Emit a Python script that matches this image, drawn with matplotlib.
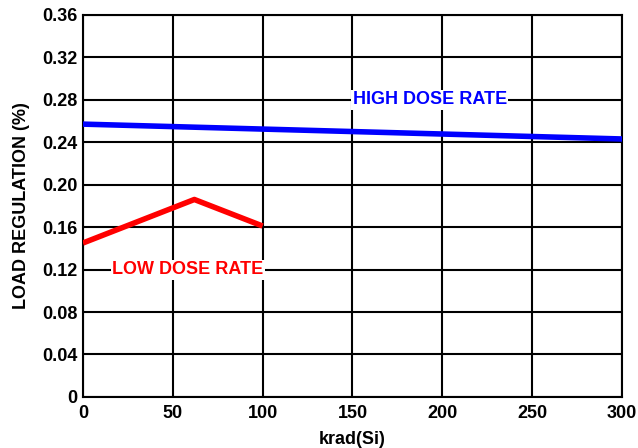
import numpy as np
import matplotlib.pyplot as plt

plt.rcParams['font.family'] = ['Liberation Sans', 'DejaVu Sans']
plt.rcParams['font.weight'] = 'bold'

# data
high_x = [0, 300]
high_y = [0.257, 0.243]

low_x = [0, 62, 100]
low_y = [0.145, 0.186, 0.161]

xticks = [0, 50, 100, 150, 200, 250, 300]
yticks = [0, 0.04, 0.08, 0.12, 0.16, 0.20, 0.24, 0.28, 0.32, 0.36]
ytick_labels = ['0', '0.04', '0.08', '0.12', '0.16', '0.20', '0.24', '0.28', '0.32', '0.36']

fig = plt.figure(figsize=(6.38, 4.48), dpi=100)
ax = fig.add_axes([0.130, 0.114, 0.845, 0.853])

ax.plot(high_x, high_y, color='#0000ff', lw=4, solid_capstyle='butt', zorder=3)
ax.plot(low_x, low_y, color='#ff0000', lw=4, solid_capstyle='butt', zorder=3)

ax.set_xlim(0, 300)
ax.set_ylim(0, 0.36)
ax.set_xticks(xticks)
ax.set_yticks(yticks)
ax.set_yticklabels(ytick_labels)
ax.grid(True, color='black', lw=1.5)
ax.set_axisbelow(True)
for sp in ax.spines.values():
    sp.set_linewidth(1.5)
ax.tick_params(axis='x', length=0, pad=6, labelsize=13)
ax.tick_params(axis='y', length=0, pad=4, labelsize=13)

ax.set_xlabel('krad(Si)', fontsize=13, fontweight='bold', labelpad=6)
ax.set_ylabel('LOAD REGULATION (%)', fontsize=13, fontweight='bold', labelpad=9)

ax.text(193, 0.280, 'HIGH DOSE RATE', color='#0000ff', fontsize=13, fontweight='bold',
        ha='center', va='center', zorder=4,
        bbox=dict(facecolor='white', edgecolor='none', pad=1))
ax.text(58.5, 0.1197, 'LOW DOSE RATE', color='#ff0000', fontsize=13, fontweight='bold',
        ha='center', va='center', zorder=4,
        bbox=dict(facecolor='white', edgecolor='none', pad=1))

plt.savefig('out.png', dpi=100)
plt.close()
